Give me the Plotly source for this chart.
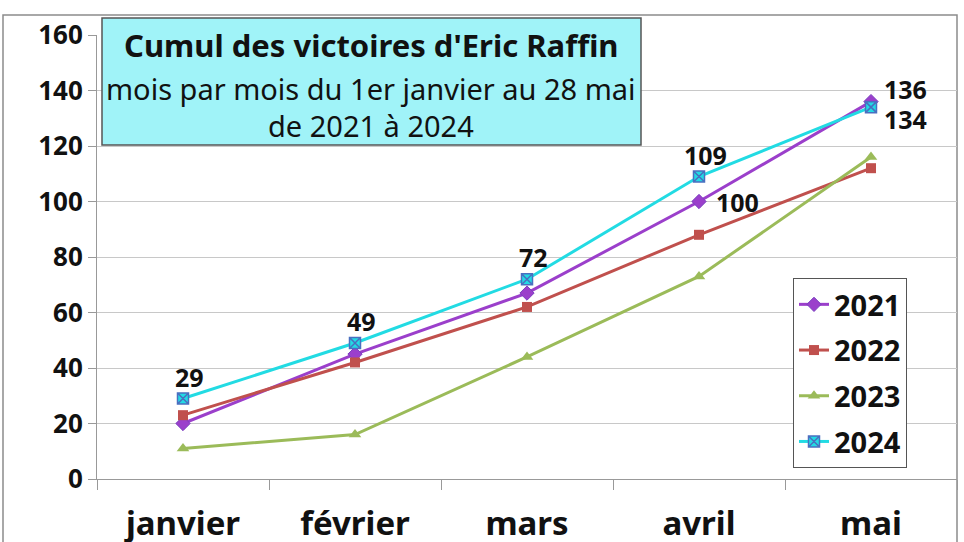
import plotly.graph_objects as go

months = ["janvier", "février", "mars", "avril", "mai"]
years = ["2021", "2022", "2023", "2024"]
v2021 = [20, 45, 67, 100, 136]
v2022 = [23, 42, 62, 88, 112]
v2023 = [11, 16, 44, 73, 116]
v2024 = [29, 49, 72, 109, 134]
y_ticks = [0, 20, 40, 60, 80, 100, 120, 140, 160]

series = [
    ("2021", v2021, "#9b3fcb", dict(symbol="diamond", size=11, color="#9b3fcb", line=dict(color="#7a3fc0", width=1))),
    ("2022", v2022, "#c0504d", dict(symbol="square", size=10, color="#c0504d")),
    ("2023", v2023, "#9bbb59", dict(symbol="triangle-up", size=11, color="#9bbb59")),
    ("2024", v2024, "#22dbe3", dict(symbol="square-x", size=11, color="#22dbe3", line=dict(color="#4a6fc0", width=1.5))),
]

fig = go.Figure()
for i, (name, vals, col, mk) in enumerate(series):
    fig.add_trace(go.Scatter(x=months, y=vals, name=name, mode="lines+markers",
                             line=dict(color=col, width=3), marker=mk,
                             legendgroup=name))

FONT = "Noto Sans"
ann = []
for j, v in enumerate(v2024):
    if j < 4:
        ann.append(dict(x=months[j], y=v, text=str(v), showarrow=False, xshift=6, yshift=22))
    else:
        ann.append(dict(x=months[j], y=v, text=str(v), showarrow=False, xshift=34, yshift=-12))
ann.append(dict(x=months[3], y=v2021[3], text=str(v2021[3]), showarrow=False, xshift=38, yshift=0))
ann.append(dict(x=months[4], y=v2021[4], text=str(v2021[4]), showarrow=False, xshift=34, yshift=13))
for a in ann:
    a["font"] = dict(family=FONT, size=25, color="#111111", weight="bold")

cx = (371 - 97) / 860
ann += [
    dict(xref="paper", yref="paper", x=cx, y=(479 - 45) / 444, xanchor="center", yanchor="middle",
         text="<b>Cumul des victoires d'Eric Raffin</b>",
         showarrow=False, font=dict(family=FONT, size=31, color="#111111")),
    dict(xref="paper", yref="paper", x=cx, y=(479 - 88) / 444, xanchor="center", yanchor="middle",
         text="mois par mois du 1er janvier au 28 mai",
         showarrow=False, font=dict(family=FONT, size=29, color="#111111")),
    dict(xref="paper", yref="paper", x=cx, y=(479 - 125) / 444, xanchor="center", yanchor="middle",
         text="de 2021 à 2024",
         showarrow=False, font=dict(family=FONT, size=29, color="#111111")),
]

shapes = [
    dict(type="rect", xref="paper", yref="paper", x0=(3 - 97) / 860, x1=1.0, y0=-0.3, y1=(479 - 15) / 444,
         line=dict(color="#8c8c8c", width=1.5), fillcolor="rgba(0,0,0,0)", layer="below"),
    dict(type="rect", xref="paper", yref="paper", x0=(102 - 97) / 860, x1=(641 - 97) / 860,
         y0=(479 - 145) / 444, y1=(479 - 18) / 444,
         line=dict(color="#555555", width=1.5), fillcolor="#a0f3f8", layer="above"),
]

fig.update_layout(
    width=964, height=542,
    margin=dict(l=97, r=7, t=35, b=63, autoexpand=False),
    paper_bgcolor="white", plot_bgcolor="white",
    showlegend=True,
    legend=dict(x=(793 - 97) / 860, y=(479 - 278) / 444, xanchor="left", yanchor="top",
                bordercolor="#555555", borderwidth=1, bgcolor="white",
                font=dict(family=FONT, size=29, color="#111111", weight="bold"),
                tracegroupgap=5, itemwidth=30),
    annotations=ann,
    shapes=shapes,
    xaxis=dict(type="category", range=[-0.5, 4.5], showgrid=False, showline=True, linecolor="#999999",
               linewidth=1, ticks="outside", tickson="boundaries", ticklen=10, tickcolor="#999999",
               ticklabelstandoff=15, automargin=False,
               tickfont=dict(family=FONT, size=33, color="#111111", weight="bold")),
    yaxis=dict(range=[0, 160], tickvals=y_ticks, showgrid=True, gridcolor="#c8c8c8", gridwidth=1,
               showline=True, linecolor="#999999", linewidth=1, ticks="outside", ticklen=8,
               tickcolor="#999999", zeroline=False, automargin=False,
               tickfont=dict(family=FONT, size=26, color="#111111", weight="bold")),
)

fig.write_html("out.html", config={"displayModeBar": False},
               post_script="document.body.style.margin='0';document.body.style.overflow='hidden';")
